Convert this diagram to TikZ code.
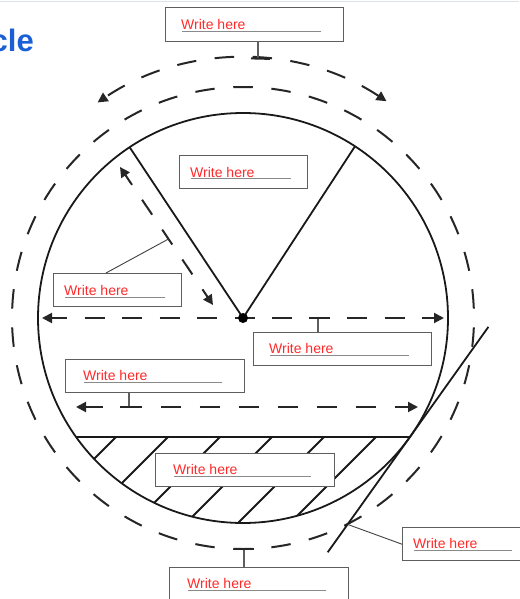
\documentclass[tikz,border=0pt]{standalone}
\usepackage{fontspec}
\setmainfont{Liberation Sans}
\usetikzlibrary{arrows.meta,calc}
\definecolor{wred}{HTML}{FF2A2A}
\definecolor{bgray}{HTML}{5E5E5E}
\definecolor{ulgray}{HTML}{8A8A8A}
\definecolor{tblue}{HTML}{1A5FD6}
\definecolor{topline}{HTML}{DDE2E6}
\begin{document}
\begin{tikzpicture}[x=1pt,y=-1pt,
 wbox/.style={draw=bgray, line width=1.4pt, fill=white, rectangle, inner sep=0pt, anchor=north west},
 wtext/.style={text=wred, font=\fontsize{14}{14}\selectfont, inner sep=0pt, anchor=base west},
 uline/.style={draw=ulgray, line width=1pt},
 stem/.style={draw=bgray, line width=1.5pt},
 leader/.style={draw=black!75, line width=0.9pt},
 solidline/.style={line width=1.8pt, draw=black!90},
 dashline/.style={line width=2pt, draw=black!85},
 twoheads/.style={{Triangle[length=10pt,width=10pt]}-{Triangle[length=10pt,width=10pt]}},
 barseg/.style={line width=2pt, draw=black!85}
]
\useasboundingbox (0,0) rectangle (519,599);
\draw[topline, line width=1.5pt] (0,1.5) -- (519,1.5);
\node[anchor=base east, inner sep=0pt, text=tblue, font=\fontsize{31}{31}\selectfont\bfseries] (title) at (34,52) {cle};

\coordinate (O) at (243,318);
% outer dashed circle and arc
\draw[dashline, dash pattern=on 19.5pt off 18.7pt, dash phase=28.85pt] (O) circle[radius=231];
\draw[dashline, dash pattern=on 19.5pt off 18.5pt, dash phase=35pt, twoheads] ($(O)+(-124:260)$) arc[start angle=-124, end angle=-56.5, radius=260];

% main circle
\draw[solidline] (O) circle[radius=205];

% hatching
\begin{scope}
\clip (O) circle[radius=205];
\clip (0,437) rectangle (519,600);
\foreach \c in {553,605,657,709,761,813}
  \draw[solidline] (\c-437,437) -- (\c-600,600);
\end{scope}

% chord and tangent
\coordinate (CL) at (76.1,437);
\coordinate (T) at (409.9,437);
\draw[solidline] (CL) -- (T);
\coordinate (Ttop) at ($(T)+(78.5,-110.1)$);
\coordinate (Tbot) at ($(T)+(-82.2,115.3)$);
\coordinate (Tlead) at ($(T)+(-62.3,87.4)$);
\draw[solidline] (Ttop) -- (Tbot);

% radii
\coordinate (RL) at (129.6,147.2);
\coordinate (RR) at (355,146.3);
\draw[solidline] (RL) -- (O) -- (RR);

% dashed arrows
\coordinate (DA1) at (120,167);
\coordinate (DA2) at (213,305);
\draw[dashline, dash pattern=on 18pt off 18pt, dash phase=6pt, twoheads] (DA1) -- (DA2);
\coordinate (H1) at (42,318);
\coordinate (H2) at (444,318);
\draw[dashline, dash pattern=on 20pt off 17.5pt, dash phase=4.5pt, twoheads] (H1) -- (H2);
\coordinate (C1) at (76,407);
\coordinate (C2) at (418,407);
\draw[dashline, dash pattern=on 20pt off 19pt, dash phase=3pt, twoheads] (C1) -- (C2);
\fill[black] (O) circle[radius=5];

% top box
\node[wbox, minimum width=178pt, minimum height=34pt] (btop) at (165,7) {};
\draw[uline] (182,31.5) -- (321,31.5);
\node[wtext] (ttop) at (181,30) {Write here};
\coordinate (stop) at (258,58.3);
\draw[stem] (btop.south -| stop) -- (stop);
\draw[barseg] (251,58.4) -- (270,58.9);

% wedge box
\node[wbox, minimum width=128pt, minimum height=33pt] (bwedge) at (179,155) {};
\draw[uline] (191,178.5) -- (291,178.5);
\node[wtext] (twedge) at (190,177) {Write here};

% radius label
\node[wbox, minimum width=128pt, minimum height=33pt] (brad) at (53,273) {};
\draw[uline] (65,297) -- (165,297);
\node[wtext] (trad) at (64,295) {Write here};
\coordinate (radlead) at (168.5,239);
\draw[leader] (brad.north -| 106,0) -- (radlead);

% center label
\node[wbox, minimum width=178pt, minimum height=33pt] (bcen) at (253,332) {};
\draw[uline] (270,355) -- (409,355);
\node[wtext] (tcen) at (269,353) {Write here};
\coordinate (scen) at (318,318);
\draw[stem] (bcen.north -| scen) -- (scen);
\draw[barseg] (309,318) -- (327,318);

% chord label
\node[wbox, minimum width=179pt, minimum height=33pt] (bchord) at (65,359) {};
\draw[uline] (84,382.5) -- (222,382.5);
\node[wtext] (tchord) at (83,380.5) {Write here};
\coordinate (schord) at (129,407);
\draw[stem] (bchord.south -| schord) -- (schord);
\draw[barseg] (120,407) -- (139,407);

% hatch label
\node[wbox, minimum width=179pt, minimum height=33pt] (bhatch) at (155,453) {};
\draw[uline] (174,476) -- (311,476);
\node[wtext] (thatch) at (173,474) {Write here};

% tangent label
\node[wbox, minimum width=130pt, minimum height=33pt] (btan) at (402,527) {};
\draw[uline] (414,550.5) -- (512,550.5);
\node[wtext] (ttan) at (413,548) {Write here};
\draw[leader] (Tlead) -- (btan.west);

% bottom label
\node[wbox, minimum width=179pt, minimum height=40pt] (bbot) at (169,567) {};
\draw[uline] (188,590.5) -- (326,590.5);
\node[wtext] (tbot) at (187,588) {Write here};
\coordinate (sbot) at (244,549);
\draw[stem] (bbot.north -| sbot) -- (sbot);
\draw[barseg] (234,549) -- (254,549);
\end{tikzpicture}
\end{document}
